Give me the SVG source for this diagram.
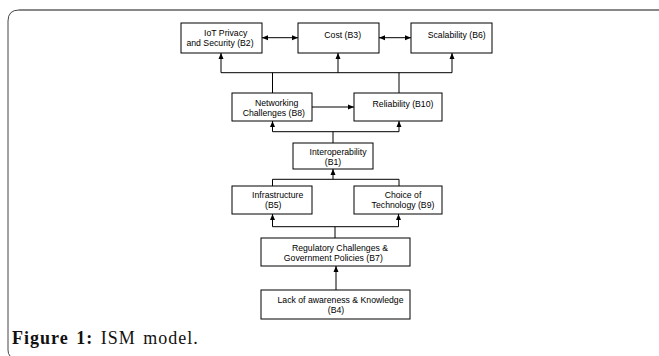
<svg xmlns="http://www.w3.org/2000/svg" width="659" height="356" viewBox="0 0 659 356">
<style>
.box{fill:#fff;stroke:#000;stroke-width:1}
.t{font-family:"Liberation Sans",Arial,sans-serif;font-size:8.7px;fill:#000;text-anchor:middle}
.c{fill:none;stroke:#000;stroke-width:1}
.cap{font-family:"Liberation Serif","Times New Roman",serif;font-size:18px;fill:#111;letter-spacing:1px;word-spacing:2px}
</style>
<defs>
<marker id="ah" viewBox="0 0 6 6" refX="6" refY="3" markerWidth="6" markerHeight="6" markerUnits="userSpaceOnUse" orient="auto-start-reverse">
<path d="M0,0.5 L6,3 L0,5.5 Z" fill="#000"/>
</marker>
</defs>
<rect width="659" height="356" fill="#fff"/>
<path d="M659,10 L19,10" fill="none" stroke="#888" stroke-width="1.8"/>
<path d="M19,10 Q8,10 8,21 L8,350 Q8,354 10,356" fill="none" stroke="#444" stroke-width="1"/>
<g id="connectors">
<line class="c" x1="262" y1="37.7" x2="298" y2="37.7" marker-start="url(#ah)" marker-end="url(#ah)"/>
<line class="c" x1="379" y1="37.7" x2="411" y2="37.7" marker-start="url(#ah)" marker-end="url(#ah)"/>
<polyline class="c" points="221,72.7 452,72.7"/>
<line class="c" x1="221" y1="72.7" x2="221" y2="53" marker-end="url(#ah)"/>
<line class="c" x1="338" y1="72.7" x2="338" y2="53" marker-end="url(#ah)" stroke-width="1.6"/>
<line class="c" x1="452" y1="72.7" x2="452" y2="53" marker-end="url(#ah)"/>
<line class="c" x1="272.5" y1="72.7" x2="272.5" y2="93"/>
<line class="c" x1="399" y1="72.7" x2="399" y2="93"/>
<line class="c" x1="312" y1="107" x2="354" y2="107" marker-end="url(#ah)"/>
<polyline class="c" points="272.5,131.7 399,131.7"/>
<line class="c" x1="272.5" y1="131.7" x2="272.5" y2="121" marker-end="url(#ah)"/>
<line class="c" x1="399" y1="131.7" x2="399" y2="121" marker-end="url(#ah)"/>
<line class="c" x1="333" y1="131.7" x2="333" y2="143"/>
<line class="c" x1="333" y1="179.3" x2="333" y2="169" marker-end="url(#ah)"/>
<polyline class="c" points="272.5,186 272.5,179.3 399,179.3 399,186"/>
<polyline class="c" points="272.5,226.7 398.5,226.7"/>
<line class="c" x1="272.5" y1="226.7" x2="272.5" y2="214" marker-end="url(#ah)"/>
<line class="c" x1="398.5" y1="226.7" x2="398.5" y2="214" marker-end="url(#ah)"/>
<line class="c" x1="335" y1="226.7" x2="335" y2="238"/>
<line class="c" x1="336" y1="290" x2="336" y2="266" marker-end="url(#ah)"/>
</g>
<g id="B2"><rect class="box" x="181" y="23" width="81" height="30"/><text class="t" x="225.7" y="35.8">IoT Privacy</text><text class="t" x="220" y="45.8">and Security (B2)</text></g>
<g id="B3"><rect class="box" x="298" y="23" width="81" height="30"/><text class="t" x="342.7" y="37.5">Cost (B3)</text></g>
<g id="B6"><rect class="box" x="411" y="23" width="81" height="30"/><text class="t" x="456.7" y="37.5">Scalability (B6)</text></g>
<g id="B8"><rect class="box" x="232" y="93" width="80" height="28"/><text class="t" x="276.7" y="106">Networking</text><text class="t" x="273.8" y="115.5">Challenges (B8)</text></g>
<g id="B10"><rect class="box" x="354" y="93" width="88" height="28"/><text class="t" x="403" y="107">Reliability (B10)</text></g>
<g id="B1"><rect class="box" x="293" y="143" width="80" height="26"/><text class="t" x="338" y="155">Interoperability</text><text class="t" x="333" y="165">(B1)</text></g>
<g id="B5"><rect class="box" x="232" y="186" width="80" height="28"/><text class="t" x="277.7" y="198">Infrastructure</text><text class="t" x="273.3" y="208">(B5)</text></g>
<g id="B9"><rect class="box" x="354" y="186" width="88" height="28"/><text class="t" x="403" y="198">Choice of</text><text class="t" x="403" y="208">Technology (B9)</text></g>
<g id="B7"><rect class="box" x="261" y="238" width="149" height="28"/><text class="t" x="340" y="250.5">Regulatory Challenges &amp;</text><text class="t" x="333.3" y="260.5">Government Policies (B7)</text></g>
<g id="B4"><rect class="box" x="261" y="290" width="149" height="29"/><text class="t" x="340.5" y="302.5">Lack of awareness &amp; Knowledge</text><text class="t" x="336" y="313">(B4)</text></g>
<text class="cap" x="12" y="344"><tspan font-weight="bold">Figure 1:</tspan> ISM model.</text>
</svg>
